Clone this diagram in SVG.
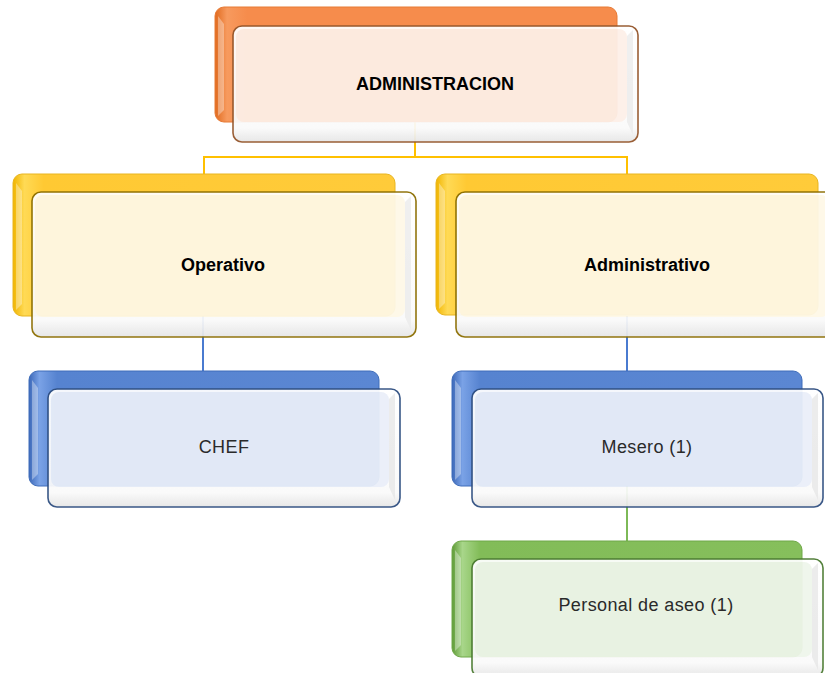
<svg xmlns="http://www.w3.org/2000/svg" width="825" height="673" viewBox="0 0 825 673">
<style>
  text { font-family: "Liberation Sans", Arial, sans-serif; font-size: 18px; text-anchor: middle; }
  .bold { font-weight: bold; fill: #000; }
  .reg { fill: #2a2a2a; letter-spacing: 0.4px; }
  .conn { fill: none; stroke-width: 2; }
  .front { opacity: 0.94; }
  .outer { stroke-width: 1.6; fill: url(#gloss); }
  .bev { fill: #fff; opacity: 0.35; }
  .o-back { fill: url(#gOrange); stroke: #E77A35; stroke-width: 1; }
  .y-back { fill: url(#gYellow); stroke: #E8B520; stroke-width: 1; }
  .b-back { fill: url(#gBlue); stroke: #3F6DBA; stroke-width: 1; }
  .g-back { fill: url(#gGreen); stroke: #6FA848; stroke-width: 1; }
</style>
<defs>
  <linearGradient id="gloss" x1="0" y1="0" x2="0" y2="1">
    <stop offset="0" stop-color="#ffffff"/>
    <stop offset="0.88" stop-color="#fafafa"/>
    <stop offset="1" stop-color="#e6e6e6"/>
  </linearGradient>
  <linearGradient id="gOrange" x1="0" y1="0" x2="1" y2="0">
    <stop offset="0" stop-color="#E06A1E"/>
    <stop offset="0.03" stop-color="#F79A5E"/>
    <stop offset="0.08" stop-color="#F68C4C"/>
    <stop offset="1" stop-color="#F68C4C"/>
  </linearGradient>
  <linearGradient id="gYellow" x1="0" y1="0" x2="1" y2="0">
    <stop offset="0" stop-color="#F0B400"/>
    <stop offset="0.03" stop-color="#FFDA55"/>
    <stop offset="0.08" stop-color="#FFC933"/>
    <stop offset="1" stop-color="#FFCB3A"/>
  </linearGradient>
  <linearGradient id="gBlue" x1="0" y1="0" x2="1" y2="0">
    <stop offset="0" stop-color="#3C68B8"/>
    <stop offset="0.03" stop-color="#7AA2E6"/>
    <stop offset="0.08" stop-color="#5683D0"/>
    <stop offset="1" stop-color="#5B87D3"/>
  </linearGradient>
  <linearGradient id="gGreen" x1="0" y1="0" x2="1" y2="0">
    <stop offset="0" stop-color="#5E9A36"/>
    <stop offset="0.03" stop-color="#A8D68A"/>
    <stop offset="0.08" stop-color="#82BC58"/>
    <stop offset="1" stop-color="#86BF5C"/>
  </linearGradient>
</defs>

<g id="connectors">
  <path class="conn" stroke="#FFC000" d="M415,122 V157 M204,157 H627 M204,156 V175 M627,156 V175"/>
  <path class="conn" stroke="#4A7BD0" d="M203,316 V372 M627,316 V372"/>
  <path class="conn" stroke="#7DB957" d="M627,486 V542"/>
</g>

<g id="node-administracion">
  <rect class="o-back" x="215" y="7" width="402" height="115" rx="9"/>
  <polygon class="bev" points="218,16 224,24 224,110 218,116"/>
  <g class="front">
    <rect class="outer" x="233" y="26" width="405" height="116" rx="9" stroke="#94552A"/>
    <rect x="236" y="29" width="391" height="93" rx="8" fill="#FDF0E8"/>
    <polygon points="627,36 633,30 633,135 627,122" fill="#e8e8e8" opacity="0.7"/>
  </g>
  <text class="bold" x="435" y="89.5">ADMINISTRACION</text>
</g>

<g id="node-operativo">
  <rect class="y-back" x="13" y="174" width="382" height="142" rx="9"/>
  <polygon class="bev" points="16,183 22,191 22,304 16,310"/>
  <g class="front">
    <rect class="outer" x="32" y="192" width="384" height="145" rx="9" stroke="#8C6E00"/>
    <rect x="35" y="195" width="370" height="122" rx="8" fill="#FEF8E7"/>
    <polygon points="405,202 411,196 411,330 405,317" fill="#e8e8e8" opacity="0.7"/>
  </g>
  <text class="bold" x="223" y="271">Operativo</text>
</g>

<g id="node-administrativo">
  <rect class="y-back" x="436" y="174" width="382" height="141" rx="9"/>
  <polygon class="bev" points="439,183 445,191 445,303 439,309"/>
  <g class="front">
    <rect class="outer" x="456" y="192" width="384" height="145" rx="9" stroke="#8C6E00"/>
    <rect x="459" y="195" width="370" height="122" rx="8" fill="#FEF8E7"/>
  </g>
  <text class="bold" x="647" y="271">Administrativo</text>
</g>

<g id="node-chef">
  <rect class="b-back" x="29" y="371" width="350" height="115" rx="9"/>
  <polygon class="bev" points="32,380 38,388 38,474 32,480"/>
  <g class="front">
    <rect class="outer" x="48" y="389" width="352" height="118" rx="9" stroke="#2E4E80"/>
    <rect x="51" y="392" width="338" height="95" rx="8" fill="#EAEFF9"/>
    <polygon points="389,399 395,393 395,500 389,487" fill="#e2e2e2" opacity="0.7"/>
  </g>
  <text class="reg" x="224" y="453">CHEF</text>
</g>

<g id="node-mesero">
  <rect class="b-back" x="452" y="371" width="350" height="115" rx="9"/>
  <polygon class="bev" points="455,380 461,388 461,474 455,480"/>
  <g class="front">
    <rect class="outer" x="472" y="389" width="351" height="118" rx="9" stroke="#2E4E80"/>
    <rect x="475" y="392" width="337" height="95" rx="8" fill="#EAEFF9"/>
    <polygon points="812,399 818,393 818,500 812,487" fill="#e2e2e2" opacity="0.7"/>
  </g>
  <text class="reg" x="647" y="453">Mesero (1)</text>
</g>

<g id="node-personal">
  <rect class="g-back" x="452" y="541" width="350" height="116" rx="9"/>
  <polygon class="bev" points="455,550 461,558 461,645 455,651"/>
  <g class="front">
    <rect class="outer" x="472" y="559" width="351" height="118" rx="9" stroke="#4A7A30"/>
    <rect x="475" y="562" width="337" height="95" rx="8" fill="#EFF6EB"/>
    <polygon points="812,569 818,563 818,670 812,657" fill="#e2e2e2" opacity="0.7"/>
  </g>
  <text class="reg" x="646" y="611">Personal de aseo (1)</text>
</g>
</svg>
